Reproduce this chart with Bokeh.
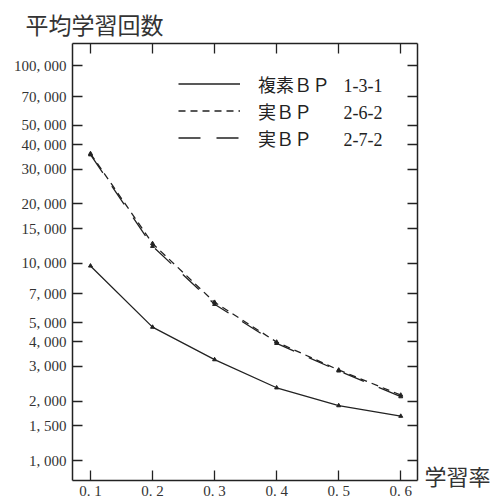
import math
from bokeh.plotting import figure
from bokeh.models import (FixedTicker, LinearAxis, LogAxis, Label, Legend, LegendItem, Range1d)
from bokeh.embed import file_html
from bokeh.resources import INLINE

# ---- data ----
learning_rate = [0.1, 0.2, 0.3, 0.4, 0.5, 0.6]
complex_bp_131 = [9700, 4750, 3250, 2340, 1900, 1680]
real_bp_262 = [36000, 12600, 6350, 3990, 2880, 2150]
real_bp_272 = [35500, 12200, 6200, 3930, 2850, 2110]

y_ticks = [1000, 1500, 2000, 3000, 4000, 5000, 7000, 10000, 15000, 20000, 30000, 40000, 50000, 70000, 100000]
y_tick_labels = ["1, 000", "1, 500", "2, 000", "3, 000", "4, 000", "5, 000", "7, 000", "10, 000",
                 "15, 000", "20, 000", "30, 000", "40, 000", "50, 000", "70, 000", "100, 000"]
x_ticks = [0.1, 0.2, 0.3, 0.4, 0.5, 0.6]
x_tick_labels = ["0. 1", "0. 2", "0. 3", "0. 4", "0. 5", "0. 6"]

legend_labels = ["複素ＢＰ\u2002 1-3-1", "実ＢＰ\u3000\u2002 2-6-2", "実ＢＰ\u3000\u2002 2-7-2"]
y_title = "平均学習回数"
x_title = "学習率"

INK = "#222222"
SERIF = "'Liberation Serif', 'Noto Sans CJK JP'"
CJK = "'Noto Sans CJK JP'"

# plot box limits (data) and its pixel placement inside the canvas
X0, X1 = 0.071, 0.627
Y0, Y1 = 793, 130000
W, H = 496, 498
BOX_L, BOX_R, BOX_T, BOX_B = 72, 417, 43, 480

xs = (BOX_R - BOX_L) / (X1 - X0)
x_start = X0 - BOX_L / xs
x_end = X1 + (W - BOX_R) / xs
ys = (BOX_B - BOX_T) / (math.log10(Y1) - math.log10(Y0))
y_start = 10 ** (math.log10(Y0) - (H - BOX_B) / ys)
y_end = 10 ** (math.log10(Y1) + BOX_T / ys)

p = figure(width=W, height=H, output_backend="svg", toolbar_location=None,
           y_axis_type="log", x_axis_location=None, y_axis_location=None,
           x_range=Range1d(x_start, x_end), y_range=Range1d(y_start, y_end),
           min_border=0, min_border_left=0, min_border_right=0,
           min_border_top=0, min_border_bottom=0)
p.grid.visible = False
p.outline_line_color = None
p.background_fill_color = "white"
p.border_fill_color = "white"

def style_axis(ax, labels=True):
    ax.axis_line_color = INK
    ax.axis_line_width = 1.5
    ax.major_tick_line_color = INK
    ax.major_tick_line_width = 1.3
    ax.major_tick_in = 10
    ax.major_tick_out = 0
    ax.minor_tick_line_color = None
    ax.minor_tick_in = 0
    ax.minor_tick_out = 0
    ax.major_label_text_font = SERIF
    ax.major_label_text_font_size = "15px"
    ax.major_label_text_color = "#333333"
    if not labels:
        ax.major_label_text_color = None
        ax.major_label_standoff = 0

xb = LinearAxis(ticker=FixedTicker(ticks=x_ticks), fixed_location=Y0, bounds=(X0, X1),
                major_label_overrides={t: l for t, l in zip(x_ticks, x_tick_labels)})
style_axis(xb)
xb.major_label_standoff = 2
p.add_layout(xb, "below")
xt = LinearAxis(ticker=FixedTicker(ticks=x_ticks), fixed_location=Y1, bounds=(X0, X1))
style_axis(xt, labels=False)
p.add_layout(xt, "above")

yl = LogAxis(ticker=FixedTicker(ticks=y_ticks), fixed_location=X0, bounds=(Y0, Y1),
             major_label_overrides={t: l for t, l in zip(y_ticks, y_tick_labels)})
style_axis(yl)
yl.major_label_standoff = 6
p.add_layout(yl, "left")
yr = LogAxis(ticker=FixedTicker(ticks=y_ticks), fixed_location=X1, bounds=(Y0, Y1))
style_axis(yr, labels=False)
p.add_layout(yr, "right")

r1 = p.line(learning_rate, complex_bp_131, line_color=INK, line_width=1.3)
r2 = p.line(learning_rate, real_bp_262, line_color=INK, line_width=1.3, line_dash="7 5")
r3 = p.line(learning_rate, real_bp_272, line_color=INK, line_width=1.3, line_dash="22 16")
for yv in (complex_bp_131, real_bp_262, real_bp_272):
    p.scatter(learning_rate, yv, marker="triangle", size=4, color=INK)

legend = Legend(items=[LegendItem(label=legend_labels[0], renderers=[r1]),
                       LegendItem(label=legend_labels[1], renderers=[r2]),
                       LegendItem(label=legend_labels[2], renderers=[r3])],
                location=(178, H - 151), glyph_width=62, glyph_height=27, label_height=27,
                spacing=0, padding=0, margin=0, label_standoff=18,
                label_text_font=SERIF, label_text_font_size="18px", label_text_color=INK,
                background_fill_alpha=0, border_line_alpha=0)
p.add_layout(legend, "center")

p.add_layout(Label(x=25, y=H - 23, x_units="screen", y_units="screen", text=y_title,
                   text_font=CJK, text_font_size="23px", text_color="#333333",
                   text_baseline="middle", text_align="left"))
p.add_layout(Label(x=424, y=H - 474, x_units="screen", y_units="screen", text=x_title,
                   text_font=CJK, text_font_size="22px", text_color="#333333",
                   text_baseline="middle", text_align="left"))

open("out.html", "w").write(file_html(p, INLINE))
